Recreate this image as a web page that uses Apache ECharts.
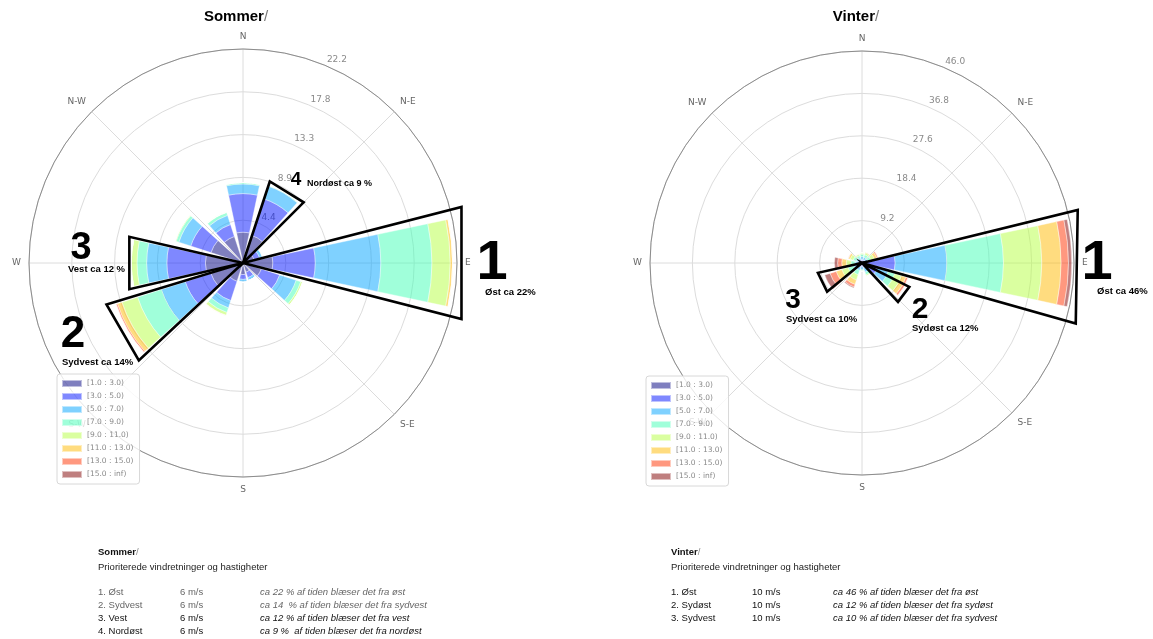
<!DOCTYPE html>
<html>
<head>
<meta charset="utf-8">
<script src="https://cdn.jsdelivr.net/npm/echarts@6/dist/echarts.min.js"></script>
<style>
  html, body { margin: 0; padding: 0; background: #fff; }
  #chart { width: 1153px; height: 639px; }
</style>
</head>
<body>
<div id="chart"></div>
<script>
// Twelve 30° sectors, listed clockwise from north
const sectors = ['0', '30', '60', '90', '120', '150', '180', '210', '240', '270', '300', '330'];
// Compass names for the 45° grid spokes
const compassValues = [0, 45, 90, 135, 180, 225, 270, 315];
const compassNames = ['N', 'N-E', 'E', 'S-E', 'S', 'S-W', 'W', 'N-W'];
// Wind speed classes (m/s) and their colours
const speedBins = ['[1.0 : 3.0)', '[3.0 : 5.0)', '[5.0 : 7.0)', '[7.0 : 9.0)', '[9.0 : 11.0)', '[11.0 : 13.0)', '[13.0 : 15.0)', '[15.0 : inf)'];
const binColors = ['#000080', '#0012ff', '#00a4ff', '#41ffb6', '#b6ff41', '#ffb900', '#ff3200', '#800000'];

// Sommer: frequency (%) per sector for each speed class
const sommer_1_3   = [3.2, 3.0, 1.2, 3.1, 2.0, 1.0, 1.2, 2.0, 3.5, 3.9, 3.5, 2.9];
const sommer_3_5   = [4.0, 4.0, 0.6, 4.4, 2.0, 0.6, 0.5, 2.1, 2.8, 4.0, 2.2, 1.3];
const sommer_5_7   = [1.0, 1.4, 0.3, 6.8, 1.8, 0.3, 0.3, 0.8, 2.6, 2.1, 1.3, 1.0];
const sommer_7_9   = [0.15, 0.1, 0.05, 5.3, 0.5, 0.0, 0.0, 0.5, 2.6, 1.0, 0.3, 0.3];
const sommer_9_11  = [0, 0, 0, 1.9, 0.2, 0, 0, 0.3, 1.7, 0.6, 0.1, 0.05];
const sommer_11_13 = [0, 0, 0, 0.25, 0, 0, 0, 0.05, 0.5, 0, 0, 0];
const sommer_13_15 = [0, 0, 0, 0, 0, 0, 0, 0, 0.15, 0, 0, 0];
const sommer_15_inf = [0, 0, 0, 0, 0, 0, 0, 0, 0, 0, 0, 0];

// Vinter: frequency (%) per sector for each speed class
const vinter_1_3   = [0.3, 0.3, 0.3, 0.8, 0.3, 0.3, 0.3, 0.3, 0.3, 0.3, 0.3, 0.3];
const vinter_3_5   = [0.5, 0.4, 0.4, 6.4, 3.2, 0.8, 0.5, 0.6, 0.6, 0.5, 0.4, 0.4];
const vinter_5_7   = [0.6, 0.6, 0.6, 11.2, 2.5, 1.0, 0.6, 0.8, 1.0, 0.7, 0.6, 0.5];
const vinter_7_9   = [0.5, 0.6, 0.7, 12.3, 1.5, 0.6, 0.3, 1.0, 1.3, 0.9, 0.7, 0.5];
const vinter_9_11  = [0.3, 0.4, 0.8, 8.3, 1.5, 0.3, 0.1, 1.2, 1.4, 1.0, 0.7, 0.3];
const vinter_11_13 = [0, 0.2, 0.6, 4.2, 1.0, 0, 0, 1.0, 1.3, 1.0, 0.4, 0.1];
const vinter_13_15 = [0, 0, 0.3, 1.6, 0.5, 0, 0, 0.6, 1.4, 0.9, 0.1, 0];
const vinter_15_inf = [0, 0, 0, 0.7, 0, 0, 0, 0.2, 1.2, 0.7, 0, 0];

// Radius scales (frequency %)
const sommerMax = 22.2, sommerStep = 4.44;
const vinterMax = 46.0, vinterStep = 9.2;

// Outlined priority sectors: centre direction (deg), reach (%), half opening (deg)
const sommerMarkDir   = [90, 240, 270, 31.6];
const sommerMarkReach = [23.4, 14.8, 12.1, 8.9];
const sommerMarkHalf  = [14.4, 13.1, 13.0, 13.4];
const vinterMarkDir   = [91, 127, 244];
const vinterMarkReach = [48.2, 11.5, 9.8];
const vinterMarkHalf  = [14.8, 10.2, 13.4];

// Priority tables under each rose
const sommerRows = [
  ['1. Øst', '6 m/s', 'ca 22 % af tiden blæser det fra øst'],
  ['2. Sydvest', '6 m/s', 'ca 14  % af tiden blæser det fra sydvest'],
  ['3. Vest', '6 m/s', 'ca 12 % af tiden blæser det fra vest'],
  ['4. Nordøst', '6 m/s', 'ca 9 %  af tiden blæser det fra nordøst']
];
const sommerRowColors = ['#666', '#666', '#111', '#111'];
const vinterRows = [
  ['1. Øst', '10 m/s', 'ca 46 % af tiden blæser det fra øst'],
  ['2. Sydøst', '10 m/s', 'ca 12 % af tiden blæser det fra sydøst'],
  ['3. Sydvest', '10 m/s', 'ca 10 % af tiden blæser det fra sydvest']
];
const vinterRowColors = ['#111', '#111', '#111'];

const sommerBins = [sommer_1_3, sommer_3_5, sommer_5_7, sommer_7_9, sommer_9_11, sommer_11_13, sommer_13_15, sommer_15_inf];
const vinterBins = [vinter_1_3, vinter_3_5, vinter_5_7, vinter_7_9, vinter_9_11, vinter_11_13, vinter_13_15, vinter_15_inf];

const AXIS_FONT = 'DejaVu Sans';
const TEXT_FONT = '"Liberation Sans", Arial, sans-serif';

// Three stacked polar systems per rose: bars, grid + compass, radius labels
function polarSet(center, radius) {
  return [
    { center: center, radius: radius },
    { center: center, radius: radius },
    { center: center, radius: radius }
  ];
}

function angleAxes(first) {
  return [
    { // bars: 12 sectors centred on their direction
      polarIndex: first, type: 'category', data: sectors, startAngle: 105, clockwise: true,
      boundaryGap: true, axisLine: { show: false }, axisTick: { show: false },
      axisLabel: { show: false }, splitLine: { show: false }
    },
    { // compass grid
      polarIndex: first + 1, type: 'value', min: 0, max: 360, interval: 45, startAngle: 90, clockwise: true,
      axisLine: { show: true, lineStyle: { color: '#8c8c8c', width: 1 } },
      axisTick: { show: false },
      splitLine: { show: true, lineStyle: { color: '#dcdcdc', width: 1 } },
      axisLabel: {
        margin: 8, color: '#666', fontSize: 9, fontFamily: AXIS_FONT,
        formatter: function (v) { const i = compassValues.indexOf(v); return (i >= 0 && v !== 360) ? compassNames[i] : ''; }
      }
    },
    { // carrier for the radius labels, rotated 22.5° from north
      polarIndex: first + 2, type: 'value', min: 0, max: 360, startAngle: 67.5, clockwise: true,
      show: false
    }
  ];
}

function radiusAxes(first, max, step) {
  return [
    { polarIndex: first, type: 'value', min: 0, max: max, show: false },
    {
      polarIndex: first + 1, type: 'value', min: 0, max: max, interval: step,
      axisLine: { show: false }, axisTick: { show: false }, axisLabel: { show: false },
      splitLine: { show: true, lineStyle: { color: '#dcdcdc', width: 1 } }
    },
    {
      polarIndex: first + 2, type: 'value', min: 0, max: max, interval: step,
      axisLine: { show: false }, axisTick: { show: false }, splitLine: { show: false },
      axisLabel: {
        color: '#8a8a8a', fontSize: 9, fontFamily: AXIS_FONT, margin: 0, rotate: 0,
        align: 'left', verticalAlign: 'bottom', padding: [0, 0, 1, 2],
        formatter: function (v) { return v > 0 ? v.toFixed(1) : ''; }
      }
    }
  ];
}

function barSeries(polarIndex, stack, bins) {
  return bins.map(function (vals, i) {
    return {
      type: 'bar', name: speedBins[i], coordinateSystem: 'polar', polarIndex: polarIndex,
      stack: stack, data: vals, barCategoryGap: '20%', z: 2,
      itemStyle: { color: binColors[i], opacity: 0.5, borderColor: '#fff', borderWidth: 0.8 },
      emphasis: { disabled: true }
    };
  });
}

function markSeries(polarIndex, dirs, reach, half) {
  return {
    type: 'custom', coordinateSystem: 'polar', polarIndex: polarIndex, z: 5, silent: true,
    data: dirs.map(function (d, i) { return [reach[i], d, half[i]]; }),
    renderItem: function (params, api) {
      const r = api.value(0), a = api.value(1), h = api.value(2);
      const c = api.coord([0, a]);
      const p1 = api.coord([r, a - h]);
      const p2 = api.coord([r, a + h]);
      return {
        type: 'polygon',
        shape: { points: [c, p1, p2] },
        style: { fill: 'none', stroke: '#000', lineWidth: 2.6, lineJoin: 'miter' }
      };
    }
  };
}

function legendAt(left, top, seriesNames) {
  return {
    orient: 'vertical', left: left, top: top, data: seriesNames,
    itemWidth: 20, itemHeight: 7, itemGap: 4, padding: [5, 6, 5, 4],
    borderColor: '#d8d8d8', borderWidth: 1, borderRadius: 3,
    backgroundColor: 'rgba(255,255,255,0.8)', selectedMode: false,
    textStyle: { color: '#8a8a8a', fontSize: 7.5, fontFamily: AXIS_FONT },
    icon: 'rect'
  };
}

function text(x, y, str, font, fill, align) {
  return {
    type: 'text', x: x, y: y, silent: true, z: 20,
    style: { text: str, font: font, fill: fill || '#000', textAlign: align || 'left', textVerticalAlign: 'middle' }
  };
}

function richTitle(x, y, name, size, align, nameColor, slashColor, weight) {
  return {
    type: 'text', x: x, y: y, silent: true, z: 20,
    style: {
      text: '{a|' + name + '}{b|/}', textAlign: align, textVerticalAlign: 'middle',
      rich: {
        a: { fontFamily: TEXT_FONT, fontWeight: weight, fontSize: size, fill: nameColor },
        b: { fontFamily: TEXT_FONT, fontWeight: 'normal', fontSize: size, fill: slashColor }
      }
    }
  };
}

function table(x0, x1, x2, yTop, title, rows, colors) {
  const out = [];
  out.push(richTitle(x0, yTop, title, 9.5, 'left', '#111', '#888', 'bold'));
  out.push(text(x0, yTop + 15, 'Prioriterede vindretninger og hastigheter', '9.5px ' + TEXT_FONT, '#222'));
  rows.forEach(function (r, i) {
    const y = yTop + 40 + i * 13;
    out.push(text(x0, y, r[0], '9.5px ' + TEXT_FONT, colors[i]));
    out.push(text(x1, y, r[1], '9.5px ' + TEXT_FONT, colors[i]));
    out.push(text(x2, y, r[2], 'italic 9.5px ' + TEXT_FONT, colors[i]));
  });
  return out;
}

const BOLD = function (s) { return 'bold ' + s + 'px ' + TEXT_FONT; };

const graphics = [
  richTitle(236, 17, 'Sommer', 15, 'center', '#000', '#777', 'bold'),
  richTitle(856, 17, 'Vinter', 15, 'center', '#000', '#777', 'bold'),
  // Sommer call-outs
  text(492, 264, '1', BOLD(56), '#000', 'center'),
  text(485, 292, 'Øst ca 22%', BOLD(9.5)),
  text(73, 335, '2', BOLD(44), '#000', 'center'),
  text(62, 362, 'Sydvest ca 14%', BOLD(9.5)),
  text(81, 249, '3', BOLD(38), '#000', 'center'),
  text(68, 269, 'Vest ca 12 %', BOLD(9.5)),
  text(296, 180, '4', BOLD(19), '#000', 'center'),
  text(307, 184, 'Nordøst ca 9 %', BOLD(9)),
  // Vinter call-outs
  text(1097, 264, '1', BOLD(56), '#000', 'center'),
  text(1097, 291, 'Øst ca 46%', BOLD(9.5)),
  text(920, 310, '2', BOLD(30), '#000', 'center'),
  text(912, 328, 'Sydøst ca 12%', BOLD(9.5)),
  text(793, 300, '3', BOLD(28), '#000', 'center'),
  text(786, 319, 'Sydvest ca 10%', BOLD(9.5))
].concat(
  table(98, 180, 260, 552, 'Sommer', sommerRows, sommerRowColors),
  table(671, 752, 833, 552, 'Vinter', vinterRows, vinterRowColors)
);

const chart = echarts.init(document.getElementById('chart'), null, { renderer: 'canvas' });

chart.setOption({
  backgroundColor: '#fff',
  animation: false,
  textStyle: { fontFamily: AXIS_FONT },
  polar: polarSet([243, 263], 214).concat(polarSet([862, 263], 212)),
  angleAxis: angleAxes(0).concat(angleAxes(3)),
  radiusAxis: radiusAxes(0, sommerMax, sommerStep).concat(radiusAxes(3, vinterMax, vinterStep)),
  legend: [legendAt(57, 374, speedBins), legendAt(646, 376, speedBins)],
  series: barSeries(0, 'sommer', sommerBins)
    .concat(barSeries(3, 'vinter', vinterBins))
    .concat([
      markSeries(1, sommerMarkDir, sommerMarkReach, sommerMarkHalf),
      markSeries(4, vinterMarkDir, vinterMarkReach, vinterMarkHalf)
    ]),
  graphic: graphics
});
</script>
</body>
</html>
